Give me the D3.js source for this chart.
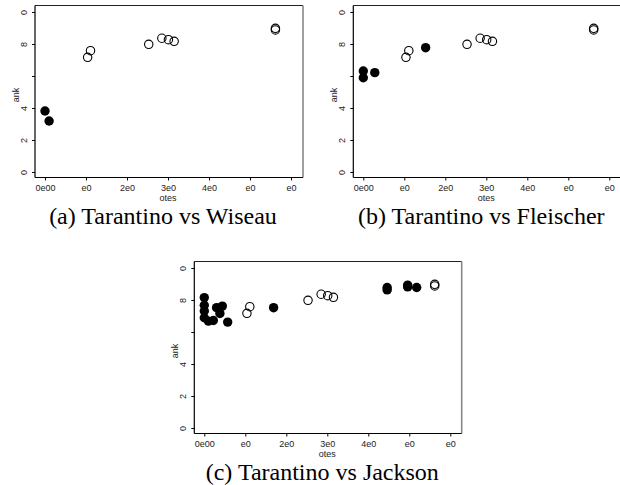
<!DOCTYPE html>
<html><head><meta charset="utf-8">
<script src="https://cdn.jsdelivr.net/npm/d3@7"></script>
<style>body{margin:0;background:#fff}svg{display:block}</style>
</head><body>
<svg id="c" width="620" height="485"></svg>
<script>
// ---- data ----
const xTicks = [0, 100000, 200000, 300000, 400000, 500000, 600000];
const xTickLabels = ["0e00", "e0", "2e0", "3e0", "4e0", "e0", "e0"];
const yTicks = [0, 2, 4, 6, 8, 10];
const yTickLabels = ["0", "2", "4", "", "8", "0"];
const xAxisTitle = "otes";
const yAxisTitle = "ank";
const captions = ["(a) Tarantino vs Wiseau", "(b) Tarantino vs Fleischer", "(c) Tarantino vs Jackson"];

const tarantinoVotes = [104000, 111000, 253000, 285000, 301000, 315000, 562000, 562000];
const tarantinoRank  = [7.17, 7.58, 7.98, 8.36, 8.27, 8.17, 8.98, 8.88];

const wiseauVotes = [0, 10000];
const wiseauRank  = [3.81, 3.19];

const fleischerVotes = [0, 0, 28000, 152000];
const fleischerRank  = [6.31, 5.89, 6.21, 7.77];

const jacksonVotes = [0, 0, 0, 0, 10000, 22000, 30000, 38000, 44000, 57000, 169000, 446000, 446000, 496000, 496000, 518000];
const jacksonRank  = [8.15, 7.67, 7.31, 6.89, 6.68, 6.72, 7.52, 7.16, 7.62, 6.62, 7.52, 8.78, 8.63, 8.93, 8.82, 8.78];

const panels = [
  {ox: 0,     oy: 0,   other: [wiseauVotes, wiseauRank],       right: 303,   capY: 224},
  {ox: 318.3, oy: 0,   other: [fleischerVotes, fleischerRank], right: 622,   capY: 224},
  {ox: 159.3, oy: 256, other: [jacksonVotes, jacksonRank],     right: 461.7, capY: 480}
];

const svg = d3.select("#c");
const sans = "'Liberation Sans', Arial, sans-serif";
const serif = "'Liberation Serif', 'Times New Roman', serif";

panels.forEach((p, i) => {
  const x = d3.scaleLinear().domain([0, 600000]).range([45 + p.ox, 291 + p.ox]);
  const y = d3.scaleLinear().domain([0, 10]).range([172 + p.oy, 12 + p.oy]);
  const left = 35 + p.ox, top = 5.5 + p.oy, bottom = 177.5 + p.oy, right = p.right;
  const g = svg.append("g");

  // frame: top and right
  g.append("line").attr("x1", left).attr("x2", right).attr("y1", top).attr("y2", top)
    .attr("stroke", "#222").attr("stroke-width", 1);
  g.append("line").attr("x1", right).attr("x2", right).attr("y1", top).attr("y2", bottom)
    .attr("stroke", "#888").attr("stroke-width", 1.6);

  // x axis
  const xa = g.append("g").attr("transform", `translate(0,${bottom})`)
    .call(d3.axisBottom(x).tickValues(xTicks).tickSize(3).tickSizeOuter(0)
      .tickFormat((d, k) => xTickLabels[k]));
  xa.select(".domain").attr("d", `M${left},0H${right}`).attr("stroke", "#000").attr("stroke-width", 1.2);
  xa.selectAll(".tick line").attr("stroke", "#000");
  xa.selectAll(".tick text").attr("font-family", sans).attr("font-size", 9).attr("fill", "#222")
    .attr("y", 7).attr("dy", "0.71em");

  // y axis
  const ya = g.append("g").attr("transform", `translate(${left},0)`)
    .call(d3.axisLeft(y).tickValues(yTicks).tickSize(3).tickSizeOuter(0)
      .tickFormat((d, k) => yTickLabels[k]));
  ya.select(".domain").attr("d", `M0,${top}V${bottom}`).attr("stroke", "#000").attr("stroke-width", 1.2);
  ya.selectAll(".tick line").attr("stroke", "#000");
  ya.selectAll(".tick text").attr("font-family", sans).attr("font-size", 9).attr("fill", "#222")
    .attr("x", null).attr("dy", null).attr("text-anchor", "middle")
    .attr("transform", "translate(-8,0) rotate(-90)");

  // axis titles
  g.append("text").attr("x", (45 + 291) / 2 + p.ox).attr("y", 201 + p.oy)
    .attr("text-anchor", "middle").attr("font-family", sans).attr("font-size", 9).attr("fill", "#222")
    .text(xAxisTitle);
  g.append("text").attr("transform", `translate(${18.5 + p.ox},${95 + p.oy}) rotate(-90)`)
    .attr("text-anchor", "middle").attr("font-family", sans).attr("font-size", 9).attr("fill", "#222")
    .text(yAxisTitle);

  // other director: filled
  const od = p.other[0].map((v, k) => [v, p.other[1][k]]);
  g.selectAll(".f").data(od).enter().append("circle")
    .attr("cx", d => x(d[0])).attr("cy", d => y(d[1])).attr("r", 4.7).attr("fill", "#000");
  // tarantino: open
  const td = tarantinoVotes.map((v, k) => [v, tarantinoRank[k]]);
  g.selectAll(".o").data(td).enter().append("circle")
    .attr("cx", d => x(d[0])).attr("cy", d => y(d[1])).attr("r", 4.2)
    .attr("fill", "none").attr("stroke", "#000").attr("stroke-width", 1.1);

  // caption
  g.append("text").attr("x", (45 + 291) / 2 + p.ox - 5).attr("y", p.capY)
    .attr("text-anchor", "middle").attr("font-family", serif)
    .attr("font-size", 24).attr("fill", "#000").text(captions[i]);
});
</script>
</body></html>
